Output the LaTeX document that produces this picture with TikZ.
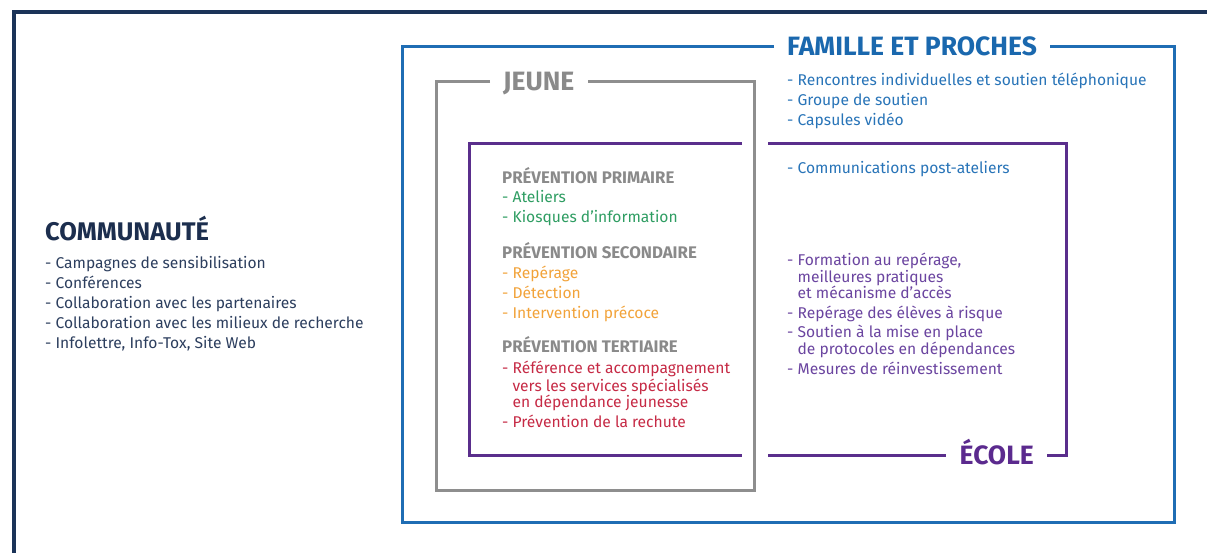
\documentclass[tikz,border=0pt]{standalone}
\usepackage{fontspec}
\setmainfont{Fira Sans}
\definecolor{navyline}{HTML}{1B3358}
\definecolor{navyt}{HTML}{1C2E4E}
\definecolor{navylist}{HTML}{2C3E5E}
\definecolor{blueline}{HTML}{1F6DB4}
\definecolor{bluet}{HTML}{1A68AE}
\definecolor{bluelist}{HTML}{2874B8}
\definecolor{grayline}{HTML}{8E8E8E}
\definecolor{grayt}{HTML}{8A8A8A}
\definecolor{purpleline}{HTML}{5A2E8C}
\definecolor{purplet}{HTML}{5B2A8E}
\definecolor{purplelist}{HTML}{6B45A0}
\definecolor{greent}{HTML}{2E9D62}
\definecolor{oranget}{HTML}{F2A33A}
\definecolor{redt}{HTML}{C62A45}
\tikzset{
  bigtitle/.style={font=\bfseries\fontsize{26.5}{26.5}\selectfont, inner xsep=13pt, inner ysep=0pt, text height=18pt, text depth=0pt},
  bodytext/.style={font=\fontsize{15.6}{15.6}\selectfont, inner sep=0pt, anchor=base west},
  headtext/.style={font=\bfseries\fontsize{16.8}{16.8}\selectfont, inner sep=0pt, anchor=base west, text=grayt},
  framepen/.style={line width=3pt, line join=miter},
}
\begin{document}
\begin{tikzpicture}[x=1pt,y=-1pt]
\useasboundingbox[fill=white] (0,0) rectangle (1207,552);
% outer navy frame
\draw[line width=3.5pt, navyline] (14,560) -- (14,12) -- (1215,12);

% COMMUNAUTE
\node[font=\bfseries\fontsize{25.5}{25.5}\selectfont, inner sep=0pt, anchor=base west, text=navyt] (com) at (45,240) {COMMUNAUTÉ};
\foreach \yy/\tt [count=\i] in {268.5/{- Campagnes de sensibilisation},288.5/{- Conférences},308/{- Collaboration avec les partenaires},328/{- Collaboration avec les milieux de recherche},348/{- Infolettre, Info-Tox, Site Web}}
  \node[bodytext, text=navylist] (c\i) at (45,\yy) {\tt};

% FAMILLE ET PROCHES (blue frame)
\node[bigtitle, text=bluet, anchor=west] (fam) at (774,46.5) {FAMILLE ET PROCHES};
\draw[framepen, blueline] (fam.west) -- (402,46.5) -- (402,522.5) -- (1174,522.5) -- (1174,46.5) -- (fam.east);
\foreach \yy/\tt [count=\i] in {85/{- Rencontres individuelles et soutien téléphonique},105/{- Groupe de soutien},125/{- Capsules vidéo},173/{- Communications post-ateliers}}
  \node[bodytext, text=bluelist] (f\i) at (787,\yy) {\tt};

% JEUNE (gray frame)
\node[bigtitle, text=grayt, anchor=west] (jeune) at (490,81) {JEUNE};
\draw[framepen, grayline] (jeune.west) -- (436.5,81) -- (436.5,490) -- (754.5,490) -- (754.5,81) -- (jeune.east);

% ECOLE (purple frame)
\node[bigtitle, text=purplet, anchor=east] (ecole) at (1047,455) {ÉCOLE};
\draw[framepen, purpleline] (742,143) -- (469.5,143) -- (469.5,455) -- (742,455);
\draw[framepen, purpleline] (768,143) -- (1066,143) -- (1066,455) -- (ecole.east);
\draw[framepen, purpleline] (768,455) -- (ecole.west);

% Prevention blocks
\node[headtext] (h1) at (502,183) {PRÉVENTION PRIMAIRE};
\foreach \yy/\tt [count=\i] in {202.5/{- Ateliers},222.5/{- Kiosques d'information}}
  \node[bodytext, text=greent] (g\i) at (502,\yy) {\tt};
\node[headtext] (h2) at (502,258) {PRÉVENTION SECONDAIRE};
\foreach \yy/\tt [count=\i] in {278/{- Repérage},298/{- Détection},318/{- Intervention précoce}}
  \node[bodytext, text=oranget] (o\i) at (502,\yy) {\tt};
\node[headtext] (h3) at (502,352.5) {PRÉVENTION TERTIAIRE};
\foreach \yy/\tt [count=\i] in {373.5/{- Référence et accompagnement},391/{\hphantom{- }vers les services spécialisés},407.5/{\hphantom{- }en dépendance jeunesse},427/{- Prévention de la rechute}}
  \node[bodytext, text=redt] (r\i) at (502,\yy) {\tt};

% Ecole list
\foreach \yy/\tt [count=\i] in {265.5/{- Formation au repérage,},282/{\hphantom{- }meilleures pratiques},298/{\hphantom{- }et mécanisme d'accès},318/{- Repérage des élèves à risque},337.5/{- Soutien à la mise en place},354/{\hphantom{- }de protocoles en dépendances},374/{- Mesures de réinvestissement}}
  \node[bodytext, text=purplelist] (e\i) at (787,\yy) {\tt};
\end{tikzpicture}
\end{document}
